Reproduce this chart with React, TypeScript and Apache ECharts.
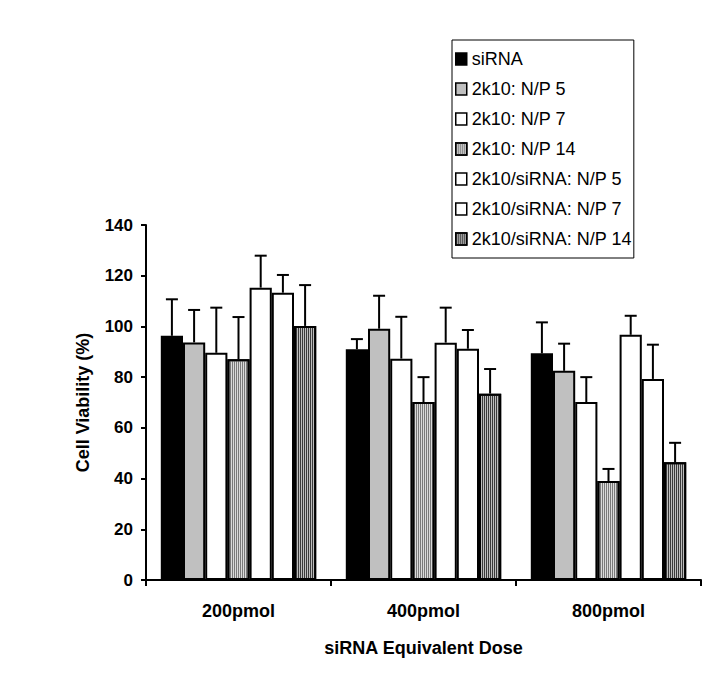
import React, { useEffect, useRef } from "react";
import * as echarts from "echarts";

const categories = ["200pmol", "400pmol", "800pmol"];
const seriesNames = [
  "siRNA",
  "2k10: N/P 5",
  "2k10: N/P 7",
  "2k10: N/P 14",
  "2k10/siRNA: N/P 5",
  "2k10/siRNA: N/P 7",
  "2k10/siRNA: N/P 14",
];
const siRNA = [96.3, 91.0, 89.4];
const np5 = [93.7, 99.1, 82.5];
const np7 = [89.6, 87.3, 70.2];
const np14 = [87.1, 70.2, 39.0];
const sNp5 = [115.3, 93.6, 96.7];
const sNp7 = [113.3, 91.2, 79.3];
const sNp14 = [100.2, 73.5, 46.4];

const siRNAErr = [14.4, 4.0, 12.2];
const np5Err = [12.8, 13.0, 10.7];
const np7Err = [17.8, 16.5, 9.8];
const np14Err = [16.6, 9.8, 4.8];
const sNp5Err = [12.6, 13.8, 7.5];
const sNp7Err = [7.0, 7.4, 13.5];
const sNp14Err = [16.1, 9.7, 7.7];

const yTicks = [0, 20, 40, 60, 80, 100, 120, 140];

const values = [siRNA, np5, np7, np14, sNp5, sNp7, sNp14];
const errors = [siRNAErr, np5Err, np7Err, np14Err, sNp5Err, sNp7Err, sNp14Err];

const FONT = "'Liberation Sans', Arial, Helvetica, sans-serif";
const BAR_FRAC = 0.12;

const fills: any[] = [
  { color: "#000000" },
  { color: "#c0c0c0" },
  { color: "#ffffff" },
  {
    color: "#dadada",
    decal: {
      symbol: "rect",
      symbolSize: 1,
      dashArrayX: [1, 1],
      dashArrayY: [4, 0],
      color: "#7a7a7a",
    },
  },
  { color: "#ffffff" },
  { color: "#ffffff" },
  {
    color: "#bdbdbd",
    decal: {
      symbol: "rect",
      symbolSize: 1,
      dashArrayX: [1, 1],
      dashArrayY: [4, 0],
      color: "#3a3a3a",
    },
  },
];

export default function App() {
  const ref = useRef<HTMLDivElement>(null);
  useEffect(() => {
    if (!ref.current) return;
    const chart = echarts.init(ref.current, null, { renderer: "svg" });

    const barSeries = seriesNames.map((name, si) => ({
      name,
      type: "bar",
      data: values[si],
      barWidth: BAR_FRAC * 100 + "%",
      barGap: "0%",
      itemStyle: {
        color: fills[si].color,
        decal: fills[si].decal,
        borderColor: "#000",
        borderWidth: 2,
      },
      z: 2,
    }));

    const errSeries = seriesNames.map((name, si) => ({
      type: "custom",
      name: "err" + si,
      data: categories.map((_, ci) => [ci, values[si][ci], errors[si][ci]]),
      encode: { x: 0, y: 1 },
      z: 3,
      renderItem: (params: any, api: any) => {
        const ci = api.value(0);
        const v = api.value(1);
        const e = api.value(2);
        const bw = api.size([1, 0])[0] * BAR_FRAC;
        const base = api.coord([ci, v]);
        const top = api.coord([ci, v + e]);
        const x = base[0] + (si - 3) * bw;
        const style = { stroke: "#000", lineWidth: 2 };
        return {
          type: "group",
          children: [
            { type: "line", shape: { x1: x, y1: base[1], x2: x, y2: top[1] }, style },
            { type: "line", shape: { x1: x - 6, y1: top[1], x2: x + 6, y2: top[1] }, style },
          ],
        };
      },
    }));

    chart.setOption({
      animation: false,
      backgroundColor: "#fff",
      textStyle: { fontFamily: FONT },
      grid: { left: 146, right: 17, top: 225, bottom: 98 },
      legend: {
        data: seriesNames,
        orient: "vertical",
        left: 452,
        top: 40,
        padding: [10, 2, 10, 3],
        itemGap: 12,
        itemWidth: 11,
        itemHeight: 12,
        icon: "rect",
        borderColor: "#000",
        borderWidth: 1,
        itemStyle: { borderColor: "#000", borderWidth: 1.5 },
        textStyle: { fontSize: 18, color: "#000", fontFamily: FONT },
      },
      xAxis: {
        type: "category",
        data: categories,
        name: "siRNA Equivalent Dose",
        nameLocation: "middle",
        nameGap: 59,
        nameTextStyle: { fontSize: 18, fontWeight: "bold", color: "#000", fontFamily: FONT },
        axisLine: { lineStyle: { color: "#000", width: 2 } },
        axisTick: { show: true, length: 6, lineStyle: { color: "#000", width: 2 } },
        axisLabel: { margin: 22, fontSize: 18, fontWeight: "bold", color: "#000", fontFamily: FONT },
      },
      yAxis: {
        type: "value",
        min: yTicks[0],
        max: yTicks[yTicks.length - 1],
        interval: 20,
        name: "Cell Viability (%)",
        nameLocation: "middle",
        nameGap: 54,
        nameTextStyle: { fontSize: 18, fontWeight: "bold", color: "#000", fontFamily: FONT },
        axisLine: { show: true, lineStyle: { color: "#000", width: 2 } },
        axisTick: { show: true, length: 5, lineStyle: { color: "#000", width: 2 } },
        axisLabel: { margin: 13, fontSize: 17, fontWeight: "bold", color: "#000", fontFamily: FONT },
        splitLine: { show: false },
      },
      series: [...barSeries, ...errSeries],
    });
    return () => chart.dispose();
  }, []);
  return (
    <div
      ref={ref}
      style={{ position: "fixed", left: 0, top: 0, width: 718, height: 678 }}
    />
  );
}
